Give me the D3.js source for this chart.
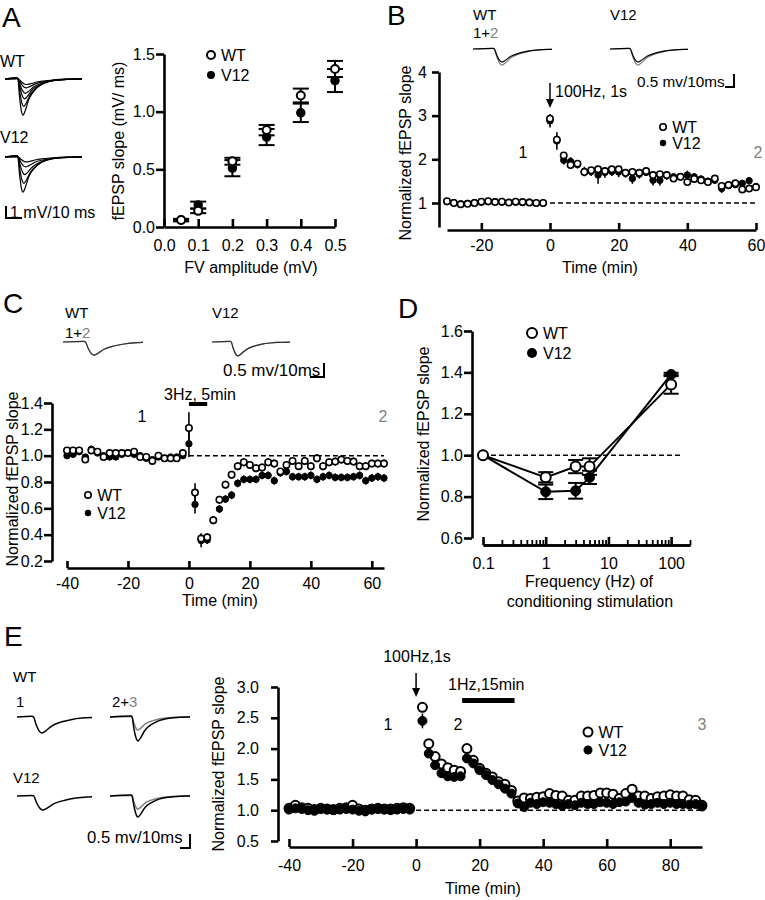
<!DOCTYPE html>
<html><head><meta charset="utf-8">
<script src="https://cdn.jsdelivr.net/npm/d3@7"></script>
<style>
body{margin:0;background:#fff;}
svg{display:block;font-family:"Liberation Sans",Arial,Helvetica,sans-serif;}
</style></head><body>
<svg id="fig" width="765" height="900"></svg>
<script>
// ---------------- DATA ----------------
// Panel A: input-output
const aFV = [0.05, 0.1, 0.2, 0.3, 0.4, 0.5];
const aWT = [0.06, 0.14, 0.57, 0.84, 1.14, 1.37];
const aWTsem = [0.01, 0.02, 0.03, 0.045, 0.06, 0.07];
const aV12 = [0.06, 0.19, 0.51, 0.78, 0.99, 1.27];
const aV12sem = [0.01, 0.03, 0.07, 0.07, 0.08, 0.10];
const aTicksX = [0, 0.1, 0.2, 0.3, 0.4, 0.5];
const aTicksY = [0, 0.5, 1.0, 1.5];
// Panel A traces (mV)
const aTraceWT = [3.3, 2.5, 1.8, 1.3, 0.8, 0.5];
const aTraceV12 = [3.2, 2.4, 1.6, 0.9, 0.45];

// Panel B: LTP (100 Hz)
const bTime = [-30,-28,-26,-24,-22,-20,-18,-16,-14,-12,-10,-8,-6,-4,-2,
  0,2,4,6,8,10,12,14,16,18,20,22,24,26,28,30,32,34,36,38,40,42,44,46,48,50,52,54,56,58,60];
const bWT = [1.04,1.00,0.97,0.98,1.00,1.03,1.04,1.02,1.03,1.01,1.03,1.02,1.01,1.00,1.00,
  2.93,2.45,2.09,1.87,1.90,1.71,1.75,1.77,1.73,1.77,1.77,1.69,1.71,1.69,1.73,1.64,1.66,1.64,1.56,1.60,1.48,1.55,1.52,1.48,1.56,1.39,1.41,1.45,1.31,1.33,1.36];
const bWTsem = [0.03,0.03,0.03,0.03,0.03,0.03,0.03,0.03,0.03,0.03,0.03,0.03,0.03,0.03,0.03,
  0.10,0.10,0.07,0.06,0.06,0.06,0.06,0.06,0.06,0.06,0.06,0.06,0.06,0.06,0.06,0.06,0.06,0.06,0.06,0.06,0.06,0.06,0.06,0.06,0.06,0.06,0.06,0.06,0.06,0.06,0.06];
const bV12 = [1.03,1.01,0.98,0.99,1.01,1.02,1.03,1.03,1.02,1.01,1.02,1.01,1.02,1.00,1.00,
  2.88,2.42,1.98,1.95,1.88,1.72,1.72,1.64,1.70,1.72,1.71,1.68,1.56,1.66,1.70,1.52,1.52,1.63,1.60,1.60,1.64,1.60,1.55,1.50,1.52,1.33,1.40,1.42,1.45,1.51,1.38];
const bV12sem = [0.03,0.03,0.03,0.03,0.03,0.03,0.03,0.03,0.03,0.03,0.03,0.03,0.03,0.03,0.03,
  0.15,0.20,0.10,0.10,0.09,0.11,0.10,0.20,0.12,0.10,0.12,0.10,0.12,0.10,0.08,0.12,0.12,0.10,0.08,0.08,0.10,0.08,0.08,0.08,0.08,0.10,0.08,0.08,0.08,0.08,0.08];
const bTicksX = [-20, 0, 20, 40, 60];
const bTicksY = [1, 2, 3, 4];
const bTraceWT = [0.65, 0.8];   // black (1), gray (2)
const bTraceV12 = [0.65, 0.8];

// Panel C: LTD (3 Hz)
const cTime = [-40,-38,-36,-34,-32,-30,-28,-26,-24,-22,-20,-18,-16,-14,-12,-10,-8,-6,-4,-2,
  0,2,4,6,8,10,12,14,16,18,20,22,24,26,28,30,32,34,36,38,40,42,44,46,48,50,52,54,56,58,60,62,64];
const cWT = [1.04,1.04,1.04,0.97,1.04,1.03,0.99,1.02,1.02,1.02,1.02,1.03,0.99,0.99,0.96,1.00,0.98,0.98,0.98,1.02,
  1.21,0.72,0.37,0.38,0.51,0.665,0.78,0.855,0.92,0.95,0.93,0.905,0.91,0.95,0.94,0.88,0.93,0.96,0.92,0.96,0.92,0.98,0.92,0.95,0.955,0.97,0.96,0.955,0.92,0.92,0.94,0.94,0.94];
const cWTsem = [0.015,0.015,0.015,0.015,0.015,0.015,0.015,0.015,0.015,0.015,0.015,0.015,0.015,0.015,0.015,0.015,0.015,0.015,0.015,0.015,
  0.12,0.07,0.04,0.03,0.03,0.03,0.03,0.03,0.03,0.03,0.03,0.03,0.03,0.03,0.03,0.02,0.03,0.03,0.03,0.03,0.03,0.03,0.03,0.03,0.03,0.03,0.03,0.03,0.03,0.03,0.03,0.03,0.03];
const cV12 = [1.00,1.01,1.03,0.99,1.05,1.02,1.00,0.99,0.99,1.01,1.02,1.01,1.00,0.98,0.97,0.99,0.98,0.99,0.99,1.00,
  1.09,0.63,0.355,0.36,0.51,0.595,0.67,0.70,0.79,0.82,0.82,0.82,0.85,0.85,0.81,0.87,0.88,0.84,0.84,0.84,0.85,0.82,0.84,0.85,0.835,0.835,0.835,0.84,0.85,0.81,0.83,0.84,0.83];
const cV12sem = [0.015,0.015,0.015,0.015,0.015,0.015,0.015,0.015,0.015,0.015,0.015,0.015,0.015,0.015,0.015,0.015,0.015,0.015,0.015,0.015,
  0.10,0.07,0.05,0.03,0.03,0.03,0.03,0.03,0.03,0.03,0.03,0.03,0.03,0.03,0.03,0.03,0.03,0.03,0.03,0.03,0.03,0.03,0.03,0.03,0.03,0.03,0.03,0.03,0.03,0.03,0.03,0.03,0.03];
const cTicksX = [-40, -20, 0, 20, 40, 60];
const cTicksY = [0.2, 0.4, 0.6, 0.8, 1.0, 1.2, 1.4];
const cTraceWT = [0.55, 0.55];
const cTraceV12 = [0.58, 0.58];

// Panel D: frequency response
const dFreq = [0.1, 1, 3, 5, 100];
const dWT = [1.0, 0.893, 0.945, 0.945, 1.342];
const dWTsem = [0, 0.025, 0.032, 0.04, 0.045];
const dV12 = [1.0, 0.823, 0.828, 0.893, 1.39];
const dV12sem = [0, 0.035, 0.038, 0.032, 0.008];
const dTicksX = [0.1, 1, 10, 100];
const dTicksY = [0.6, 0.8, 1.0, 1.2, 1.4, 1.6];

// Panel E: LTP then depotentiation
const eTime = [-40,-38,-36,-34,-32,-30,-28,-26,-24,-22,-20,-18,-16,-14,-12,-10,-8,-6,-4,-2,
  2,4,6,8,10,12,14,
  16,18,20,22,24,26,28,30,32,34,36,38,40,42,44,46,48,50,52,54,56,58,60,62,64,66,68,70,72,74,76,78,80,82,84,86,88,90];
const eWT = [1.03,1.08,1.04,1.03,1.01,1.03,1.02,1.01,1.03,1.04,1.08,1.02,1.00,1.02,1.03,1.02,1.02,1.03,1.04,1.03,
  2.67,2.08,1.87,1.75,1.69,1.65,1.63,
  2.00,1.81,1.68,1.60,1.54,1.46,1.42,1.32,1.15,1.20,1.19,1.21,1.22,1.27,1.24,1.23,1.16,1.16,1.23,1.23,1.24,1.28,1.28,1.26,1.19,1.27,1.34,1.23,1.23,1.19,1.22,1.23,1.25,1.23,1.23,1.17,1.16,1.08];
const eV12 = [1.01,1.03,1.02,1.00,0.99,1.02,1.01,1.00,1.01,1.02,1.01,0.99,0.98,1.01,1.02,1.01,1.00,1.01,1.02,1.01,
  2.45,1.92,1.73,1.60,1.55,1.54,1.55,
  1.84,1.76,1.65,1.57,1.49,1.42,1.35,1.27,1.11,1.05,1.12,1.10,1.13,1.12,1.10,1.07,1.10,1.08,1.12,1.10,1.10,1.13,1.12,1.10,1.13,1.14,1.20,1.12,1.09,1.10,1.12,1.10,1.12,1.10,1.10,1.09,1.10,1.06];
const eWTsem = eTime.map(t => t === 2 ? 0.08 : 0.03);
const eV12sem = eTime.map(t => t === 2 ? 0.12 : 0.04);
const eTicksX = [-40, -20, 0, 20, 40, 60, 80];
const eTicksY = [0.5, 1.0, 1.5, 2.0, 2.5, 3.0];
const eTrace1 = [0.8, 0.7];          // WT, V12 at time 1
const eTrace2 = [1.2, 1.05];         // WT, V12 at time 2 (black)
const eTrace3 = [0.65, 0.65];        // WT, V12 at time 3 (gray)

// EPSP waveform template (u: time in units of trough latency, v: relative amplitude)
const traceU = [-1, 0, 0.15, 0.4, 0.75, 1, 1.3, 2, 3, 4, 5, 6, 8, 30];
const traceV = [0, 0.12, 0.02, -0.45, -0.9, -1, -0.9, -0.55, -0.3, -0.15, -0.07, -0.03, 0, 0];

// ---------------- DRAWING ----------------
const svg = d3.select('#fig');
const GRAY = '#808080';
const intFmt = d => String(d);

function text(x, y, s, o = {}) {
  const t = svg.append('text').attr('x', x).attr('y', y).text(s)
    .attr('font-size', o.size || 16).attr('text-anchor', o.anchor || 'start')
    .attr('fill', o.fill || '#000');
  if (o.rotate) t.attr('transform', `rotate(${o.rotate},${x},${y})`);
  return t;
}
function mixed(x, y, parts, size) {
  const t = svg.append('text').attr('x', x).attr('y', y).attr('font-size', size);
  parts.forEach(([s, c]) => t.append('tspan').attr('fill', c).text(s));
}
function styleAxis(g, fs) {
  g.attr('font-size', fs).attr('font-family', null);
  g.select('.domain').attr('stroke-width', 2.6);
  g.selectAll('.tick line').attr('stroke-width', 2.6);
  g.selectAll('.tick text').attr('fill', '#000');
}
function yAxis(scale, x, vals, fmt, pad, tick = 7) {
  const g = svg.append('g').attr('transform', `translate(${x},0)`)
    .call(d3.axisLeft(scale).tickValues(vals).tickFormat(fmt).tickSizeInner(tick).tickSizeOuter(0).tickPadding(pad));
  styleAxis(g, 16); return g;
}
function xAxis(scale, y, vals, fmt, pad, tick = 7) {
  const g = svg.append('g').attr('transform', `translate(0,${y})`)
    .call(d3.axisBottom(scale).tickValues(vals).tickFormat(fmt).tickSizeInner(-tick).tickSizeOuter(0).tickPadding(pad));
  styleAxis(g, 16); return g;
}
function zipS(xs, ys, es) { return xs.map((x, i) => ({x, y: ys[i], e: es ? es[i] : 0})); }
function errbars(data, x, y, cap, sw) {
  const g = svg.append('g').attr('stroke', '#000').attr('stroke-width', sw);
  data.forEach(d => {
    if (!d.e) return;
    const px = x(d.x);
    g.append('line').attr('x1', px).attr('x2', px).attr('y1', y(d.y + d.e)).attr('y2', y(d.y - d.e));
    if (cap) {
      [d.y + d.e, d.y - d.e].forEach(v => g.append('line').attr('x1', px - cap).attr('x2', px + cap)
        .attr('y1', y(v)).attr('y2', y(v)));
    }
  });
}
function dots(data, x, y, r, filled, sw) {
  svg.append('g').selectAll('circle').data(data).join('circle')
    .attr('cx', d => x(d.x)).attr('cy', d => y(d.y)).attr('r', r)
    .attr('fill', filled ? '#000' : '#fff').attr('stroke', '#000').attr('stroke-width', sw);
}
function dashed(x1, x2, yy) {
  svg.append('line').attr('x1', x1).attr('x2', x2).attr('y1', yy).attr('y2', yy)
    .attr('stroke', '#000').attr('stroke-width', 1.5).attr('stroke-dasharray', '5,3');
}
function legend(x, y1, y2, r, sw, size) {
  svg.append('circle').attr('cx', x).attr('cy', y1).attr('r', r).attr('fill', '#fff').attr('stroke', '#000').attr('stroke-width', sw);
  svg.append('circle').attr('cx', x).attr('cy', y2).attr('r', r).attr('fill', '#000');
  text(x + r + 6, y1 + 6, 'WT', {size});
  text(x + r + 6, y2 + 6, 'V12', {size});
}
function arrow(x, y1, y2) {
  svg.append('line').attr('x1', x).attr('x2', x).attr('y1', y1).attr('y2', y2 - 6).attr('stroke', '#000').attr('stroke-width', 1.5);
  svg.append('path').attr('d', `M${x - 4},${y2 - 9} L${x + 4},${y2 - 9} L${x},${y2} Z`).attr('fill', '#000');
}
const tplScale = d3.scaleLinear().domain(traceU).range(traceV);
function trace(x0, xs, xtr, x1, base, pxPerMv, amp, color, sw = 1.2) {
  const pts = [];
  traceU.forEach((u, i) => {
    const px = u < 0 ? xs + u * (xs - x0) : xs + u * (xtr - xs);
    if (px < x1) pts.push([px, base - traceV[i] * amp * pxPerMv * (traceV[i] > 0 ? 0.35 : 1)]);
  });
  const uEnd = (x1 - xs) / (xtr - xs);
  pts.push([x1, base - tplScale(uEnd) * amp * pxPerMv]);
  svg.append('path').attr('d', d3.line().curve(d3.curveMonotoneX)(pts))
    .attr('fill', 'none').attr('stroke', color).attr('stroke-width', sw);
}
function scaleBar(xc, ytop, ybot, xleft) {
  svg.append('path').attr('d', `M${xc},${ytop} V${ybot} H${xleft}`).attr('fill', 'none').attr('stroke', '#000').attr('stroke-width', 2);
}

// ===== Panel A =====
text(2, 27, 'A', {size: 28});
const axA = d3.scaleLinear().domain([0, 0.5]).range([164, 335]);
const ayA = d3.scaleLinear().domain([0, 1.5]).range([227, 54]);
yAxis(ayA, 164, aTicksY, d3.format('.1f'), 1, 8);
xAxis(axA, 227, aTicksX, d3.format('.1f'), 13, 8);
text(124, 141, 'fEPSP slope (mV/ ms)', {size: 16, anchor: 'middle', rotate: -90});
text(251, 273, 'FV amplitude (mV)', {size: 16, anchor: 'middle'});
const aW = zipS(aFV, aWT, aWTsem), aV = zipS(aFV, aV12, aV12sem);
errbars(aV, axA, ayA, 8, 2);
errbars(aW, axA, ayA, 8, 2);
dots(aV, axA, ayA, 4, true, 1.5);
dots(aW, axA, ayA, 4, false, 2);
legend(211, 55, 75, 4, 2, 16);
// A traces
text(0, 67, 'WT', {size: 16});
text(0, 143, 'V12', {size: 16});
aTraceWT.forEach((a, i) => trace(5, 17, 23 + i * 0.8, 82, 79, 11, a, '#000', 1.2));
aTraceV12.forEach((a, i) => trace(5, 17, 23 + i * 0.9, 82, 157, 11, a, '#000', 1.2));
scaleBar(6, 206, 218, 22);
text(10, 218, '1 mV/10 ms', {size: 16});

// ===== Panel B =====
text(387, 25, 'B', {size: 28});
const axB = d3.scaleLinear().domain([-30, 60]).range([447, 756]);
const ayB = d3.scaleLinear().domain([0.45, 4]).range([227, 72]);
yAxis(ayB, 439, bTicksY, intFmt, 5, 7);
xAxis(axB, 230, bTicksX, intFmt, 10, 7);
text(411, 153, 'Normalized fEPSP slope', {size: 16, anchor: 'middle', rotate: -90});
text(600, 273, 'Time (min)', {size: 16, anchor: 'middle'});
dashed(axB(0), axB(60), ayB(1));
const bW = zipS(bTime, bWT, bWTsem), bV = zipS(bTime, bV12, bV12sem);
errbars(bV, axB, ayB, 0, 1.6);
dots(bV, axB, ayB, 3.2, true, 1);
errbars(bW, axB, ayB, 0, 1.6);
dots(bW, axB, ayB, 3.2, false, 1.6);
legend(663, 127, 143, 3.2, 1.6, 16);
arrow(axB(0), 83, 108);
text(555, 97, '100Hz, 1s', {size: 16});
text(523, 158, '1', {size: 16, anchor: 'middle'});
text(758, 158, '2', {size: 16, anchor: 'middle', fill: GRAY});
text(473, 20, 'WT', {size: 15});
text(610, 20, 'V12', {size: 15});
mixed(473, 38, [['1+', '#000'], ['2', GRAY]], 15);
trace(473, 493, 502, 552, 49, 20, bTraceWT[1], GRAY);
trace(473, 493, 502, 552, 49, 20, bTraceWT[0], '#000');
trace(610, 629, 638, 688, 49, 20, bTraceV12[1], GRAY);
trace(610, 629, 638, 688, 49, 20, bTraceV12[0], '#000');
text(637, 87, '0.5 mv/10ms', {size: 15.3});
scaleBar(734, 74, 87, 725);

// ===== Panel C =====
text(3, 313, 'C', {size: 28});
const axC = d3.scaleLinear().domain([-40, 64]).range([67, 384]);
const ayC = d3.scaleLinear().domain([0.2, 1.4]).range([561, 403]);
yAxis(ayC, 52, cTicksY, d3.format('.1f'), 1, 8);
xAxis(axC, 568, cTicksX, intFmt, 10, 7);
text(18, 479, 'Normalized fEPSP slope', {size: 16, anchor: 'middle', rotate: -90});
text(220, 606, 'Time (min)', {size: 16, anchor: 'middle'});
dashed(axC(0), axC(64), ayC(1));
const cW = zipS(cTime, cWT, cWTsem), cV = zipS(cTime, cV12, cV12sem);
errbars(cV, axC, ayC, 0, 1.6);
dots(cV, axC, ayC, 3.2, true, 1);
errbars(cW, axC, ayC, 0, 1.6);
dots(cW, axC, ayC, 3.2, false, 1.6);
legend(88, 495, 513, 3.2, 1.6, 16);
svg.append('rect').attr('x', axC(0)).attr('y', 402).attr('width', axC(6) - axC(0)).attr('height', 4).attr('fill', '#000');
text(200, 400, '3Hz, 5min', {size: 16, anchor: 'middle'});
text(142, 422, '1', {size: 16, anchor: 'middle'});
text(383, 422, '2', {size: 16, anchor: 'middle', fill: GRAY});
text(65, 318, 'WT', {size: 15});
text(212, 318, 'V12', {size: 15});
mixed(65, 338, [['1+', '#000'], ['2', GRAY]], 15);
trace(63, 84, 94, 143, 342, 24, cTraceWT[1], GRAY);
trace(63, 84, 94, 143, 342, 24, cTraceWT[0], '#333');
trace(212, 230, 238, 290, 342, 24, cTraceV12[1], GRAY);
trace(212, 230, 238, 290, 342, 24, cTraceV12[0], '#333');
text(223, 376, '0.5 mv/10ms', {size: 17});
scaleBar(324, 363, 377, 310);

// ===== Panel D =====
text(398, 318, 'D', {size: 28});
const axD = d3.scaleLog().domain([0.1, 200]).range([483, 690]);
const ayD = d3.scaleLinear().domain([0.6, 1.6]).range([538, 331]);
yAxis(ayD, 472, dTicksY, d3.format('.1f'), 1, 8);
const dMinor = [];
[0.1, 1, 10, 100].forEach(dec => { for (let k = 2; k <= 9; k++) if (dec * k <= 200) dMinor.push(dec * k); });
const gMinor = svg.append('g').attr('transform', 'translate(0,545)')
  .call(d3.axisBottom(axD).tickValues(dMinor).tickFormat('').tickSizeInner(-5).tickSizeOuter(0));
styleAxis(gMinor, 16);
gMinor.selectAll('.tick line').attr('stroke-width', 1.8);
xAxis(axD, 545, dTicksX, d => String(d), 13, 8);
text(429, 434, 'Normalized fEPSP slope', {size: 16, anchor: 'middle', rotate: -90});
text(589, 587, 'Frequency (Hz) of', {size: 16, anchor: 'middle'});
text(590, 607, 'conditioning stimulation', {size: 16, anchor: 'middle'});
dashed(axD(0.1), 680, ayD(1));
const dW = zipS(dFreq, dWT, dWTsem), dV = zipS(dFreq, dV12, dV12sem);
const ln = d3.line().x(d => axD(d.x)).y(d => ayD(d.y));
svg.append('path').attr('d', ln(dV)).attr('fill', 'none').attr('stroke', '#000').attr('stroke-width', 2);
svg.append('path').attr('d', ln(dW)).attr('fill', 'none').attr('stroke', '#000').attr('stroke-width', 2);
errbars(dV, axD, ayD, 7.5, 2);
errbars(dW, axD, ayD, 7.5, 2);
dots(dV, axD, ayD, 5, true, 1);
dots(dW, axD, ayD, 5, false, 2);
legend(532, 333, 353, 5, 2, 16);

// ===== Panel E =====
text(4, 646, 'E', {size: 28});
const axE = d3.scaleLinear().domain([-40, 90]).range([289, 702]);
const ayE = d3.scaleLinear().domain([0.5, 3.0]).range([841, 687]);
yAxis(ayE, 278, eTicksY, d3.format('.1f'), 12, 7);
xAxis(axE, 847, eTicksX, intFmt, 13, 8);
text(224, 764, 'Normalized fEPSP slope', {size: 16, anchor: 'middle', rotate: -90});
text(483, 894, 'Time (min)', {size: 16, anchor: 'middle'});
dashed(axE(0), axE(90), ayE(1));
const eW = zipS(eTime, eWT, eWTsem), eV = zipS(eTime, eV12, eV12sem);
errbars(eW, axE, ayE, 0, 1.6);
dots(eW, axE, ayE, 4.5, false, 2);
errbars(eV, axE, ayE, 0, 1.6);
dots(eV, axE, ayE, 4.5, true, 1);
legend(588, 732, 750, 4.5, 2, 16);
arrow(axE(0), 673, 697);
text(417, 662, '100Hz,1s', {size: 16, anchor: 'middle'});
text(448, 690, '1Hz,15min', {size: 16});
svg.append('rect').attr('x', axE(14.5)).attr('y', 698).attr('width', axE(31) - axE(14.5)).attr('height', 5).attr('fill', '#000');
text(388, 730, '1', {size: 16, anchor: 'middle'});
text(458, 730, '2', {size: 16, anchor: 'middle'});
text(702, 730, '3', {size: 16, anchor: 'middle', fill: GRAY});
text(13, 682, 'WT', {size: 15});
text(16, 707, '1', {size: 15});
mixed(112, 707, [['2+', '#000'], ['3', GRAY]], 15);
text(13, 783, 'V12', {size: 15});
trace(17, 32, 42, 92, 717, 20, eTrace1[0], '#000', 1.5);
trace(110, 131, 138, 190, 717, 20, eTrace3[0], GRAY, 1.5);
trace(110, 131, 138, 190, 717, 20, eTrace2[0], '#000', 1.5);
trace(17, 32, 43, 92, 796, 20, eTrace1[1], '#000', 1.5);
trace(110, 131, 138, 190, 796, 20, eTrace3[1], GRAY, 1.5);
trace(110, 131, 138, 190, 796, 20, eTrace2[1], '#000', 1.5);
text(87, 843, '0.5 mv/10ms', {size: 16.7});
scaleBar(190, 834, 848, 180);
</script>
</body></html>
